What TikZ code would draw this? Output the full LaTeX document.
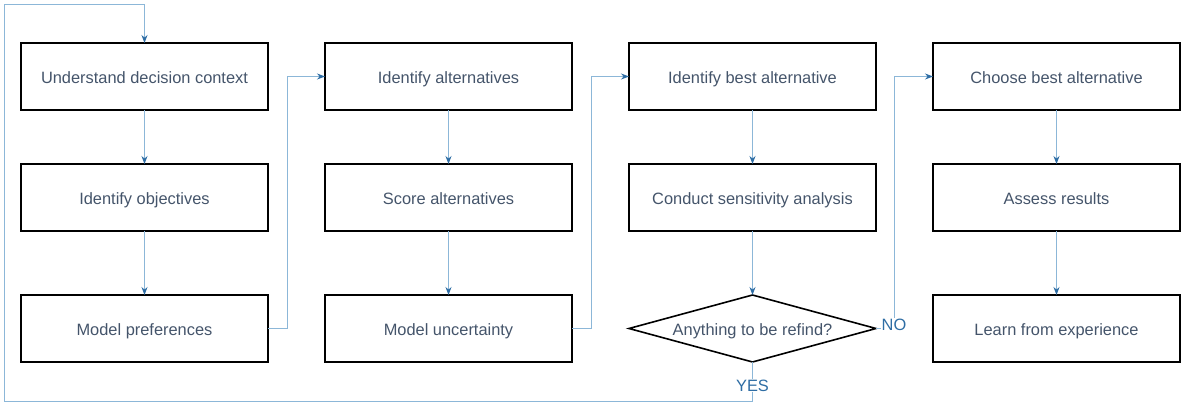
\documentclass[tikz,border=0pt]{standalone}
\usepackage{fontspec}
\setmainfont{Liberation Sans}
\usepackage{tikz}
\usetikzlibrary{arrows.meta, positioning, shapes.geometric}

\definecolor{linkblue}{RGB}{140,183,216}
\definecolor{tipblue}{RGB}{46,109,164}
\definecolor{txtgray}{RGB}{68,84,106}

\begin{document}
\begin{tikzpicture}[
    x=1pt, y=1pt,
    node distance=57pt,
    box/.style={rectangle, draw, line width=1.6pt, minimum width=247pt, minimum height=67pt,
      inner sep=0pt, outer sep=0pt, text height=13.6pt, text depth=0pt,
      text=txtgray, font=\fontsize{16.4}{20}\selectfont},
    decide/.style={diamond, draw, line width=1.6pt, aspect=3.69, minimum width=247pt,
      minimum height=67pt, inner sep=0pt, outer sep=0pt, text height=13.4pt, text depth=0pt,
      text=txtgray, font=\fontsize{16.4}{20}\selectfont},
    link/.style={draw=linkblue, line width=0.9pt},
    answer/.style={fill=white, inner sep=1pt, text=tipblue, font=\fontsize{16.4}{20}\selectfont},
    >={Stealth[color=tipblue, length=8pt, width=6pt]}
]
\useasboundingbox (0,0) rectangle (1184,-403);
% first column
\node[box] (ctx) at (144.5,-76.5) {Understand decision context};
\node[box, below=54pt of ctx] (obj) {Identify objectives};
\node[box, below=64pt of obj] (pref) {Model preferences};
% second column
\node[box, right=of ctx] (alt) {Identify alternatives};
\node[box, below=54pt of alt] (score) {Score alternatives};
\node[box, below=64pt of score] (unc) {Model uncertainty};
% third column
\node[box, right=of alt] (best) {Identify best alternative};
\node[box, below=54pt of best] (sens) {Conduct sensitivity analysis};
\node[decide, below=64pt of sens] (refine) {Anything to be refind?};
% fourth column
\node[box, right=of best] (choose) {Choose best alternative};
\node[box, below=54pt of choose] (assess) {Assess results};
\node[box, below=64pt of assess] (learn) {Learn from experience};
\coordinate (lb) at (4,-401);
\coordinate (lt) at (4,-4);
% connectors
\draw[link, ->] (ctx) -- (obj);
\draw[link, ->] (obj) -- (pref);
\draw[link, ->] (alt) -- (score);
\draw[link, ->] (score) -- (unc);
\draw[link, ->] (best) -- (sens);
\draw[link, ->] (sens) -- (refine);
\draw[link, ->] (choose) -- (assess);
\draw[link, ->] (assess) -- (learn);
\draw[link, ->] (pref.east) -- ++(19,0) |- (alt.west);
\draw[link, ->] (unc.east) -- ++(19,0) |- (best.west);
\draw[link, ->] (refine.east) -- ++(18,0) node[answer, yshift=4pt] {NO} |- (choose.west);
\draw[link, ->] (refine.south) |- node[answer, pos=0.3] {YES} (lb) -- (lt) -| (ctx.north);
\end{tikzpicture}
\end{document}
